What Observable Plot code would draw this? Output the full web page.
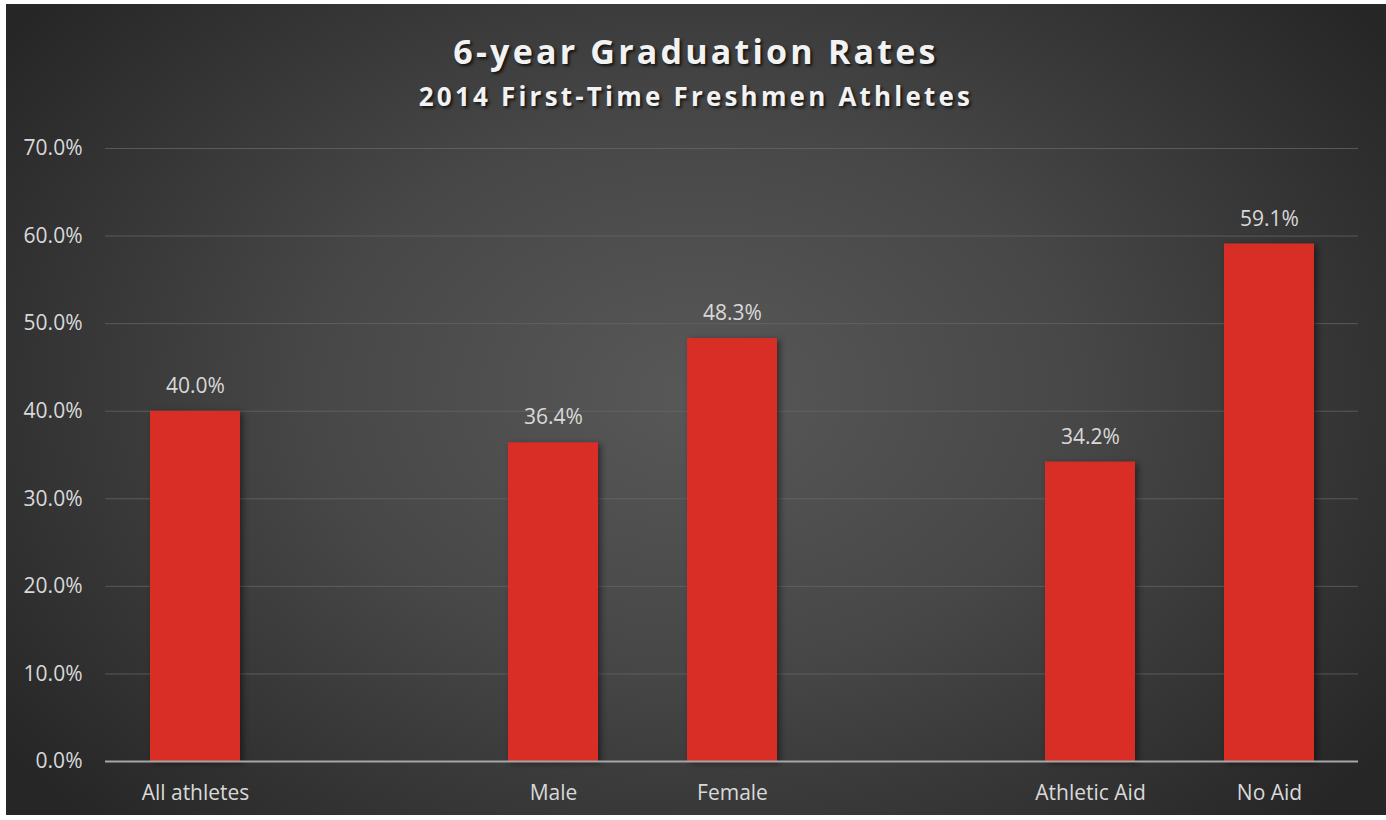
<!DOCTYPE html>
<html>
<head>
<meta charset="utf-8">
<script src="https://cdn.jsdelivr.net/npm/d3@7"></script>
<script src="https://cdn.jsdelivr.net/npm/@observablehq/plot@0.6"></script>
<style>
  html, body { margin: 0; padding: 0; background: #ffffff; }
  #frame {
    position: absolute; left: 6px; top: 4px; width: 1380px; height: 811px;
    background: radial-gradient(ellipse 62% 75% at 50% 48%, #585858 0%, #474747 45%, #2f2f2f 85%, #262626 100%);
    overflow: hidden;
  }
  .ttl {
    position: absolute; left: 0; width: 1380px; text-align: center; white-space: nowrap;
    font-family: "Open Sans", sans-serif; font-weight: 700; line-height: normal;
    color: #f2f2f2; text-shadow: 2px 2px 3px rgba(0,0,0,0.7);
  }
  #title { top: 24px; font-size: 34px; letter-spacing: 3.2px; }
  #subtitle { top: 74px; font-size: 26px; letter-spacing: 3.2px; }
  #chart { position: absolute; left: -6px; top: 112px; }
  #chart svg { background: transparent; overflow: visible; }
  .bars rect { filter: drop-shadow(3px 2px 3px rgba(0,0,0,0.45)); }
</style>
</head>
<body>
<div id="frame">
  <div id="title" class="ttl">6-year Graduation Rates</div>
  <div id="subtitle" class="ttl">2014 First-Time Freshmen Athletes</div>
  <div id="chart"></div>
</div>
<script>
const categories = ["All athletes", "Male", "Female", "Athletic Aid", "No Aid"];
const values = [40.0, 36.4, 48.3, 34.2, 59.1];
const xDomain = ["All athletes", "gap1", "Male", "Female", "gap2", "Athletic Aid", "No Aid"];
const yTicks = [0, 10, 20, 30, 40, 50, 60, 70];

const data = categories.map((c, i) => ({category: c, value: values[i]}));
const fmt = v => v.toFixed(1) + "%";
const FS = 21;

const chart = Plot.plot({
  width: 1386,
  height: 704,
  marginLeft: 105,
  marginRight: 28,
  marginTop: 32,
  marginBottom: 59,
  style: {background: "transparent", color: "#d9d9d9", fontFamily: "Open Sans, sans-serif", fontSize: FS + "px"},
  x: {domain: xDomain, paddingInner: 0.5, paddingOuter: 0.25, label: null},
  y: {domain: [0, 70], label: null},
  marks: [
    Plot.gridY(yTicks.filter(t => t > 0), {stroke: "#6a6a6a", strokeOpacity: 0.7, strokeWidth: 1}),
    Plot.axisY({ticks: yTicks, tickSize: 0, tickPadding: 23, tickFormat: fmt, fontSize: FS, fill: "#d9d9d9", label: null}),
    Plot.axisX({tickSize: 0, tickPadding: 24, tickFormat: d => d.startsWith("gap") ? "" : d, fontSize: FS, fill: "#d9d9d9", label: null}),
    Plot.barY(data, {x: "category", y: "value", fill: "#d92e26", className: "bars"}),
    Plot.ruleY([0], {stroke: "#a6a6a6", strokeWidth: 2}),
    Plot.text(data, {x: "category", y: "value", text: d => fmt(d.value), dy: -25, fill: "#d9d9d9", fontSize: FS})
  ]
});
document.getElementById("chart").appendChild(chart);
</script>
</body>
</html>
